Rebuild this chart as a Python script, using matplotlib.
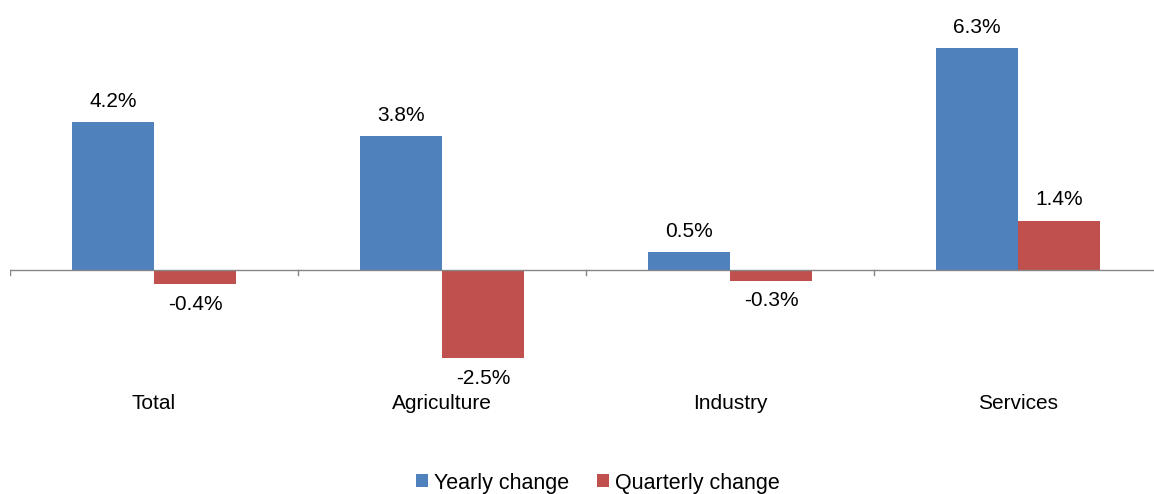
import numpy as np
import matplotlib
matplotlib.use("Agg")
import matplotlib.pyplot as plt

plt.rcParams["font.family"] = ["Liberation Sans", "DejaVu Sans"]

CATEGORIES = ["Total", "Agriculture", "Industry", "Services"]
YEARLY     = [4.2, 3.8, 0.5, 6.3]
QUARTERLY  = [-0.4, -2.5, -0.3, 1.4]
BLUE = "#4F81BD"
RED  = "#C0504D"
FS = 15

fig = plt.figure(figsize=(11.54, 4.94), dpi=100)
# zero line at y=270px, 35.2 px per unit
ax = fig.add_axes([10/1154, 1 - 380/494, 1152/1154, 370/494])
ax.set_ylim(-110/35.2, 260/35.2)
ax.set_xlim(0, 4)

x = np.arange(len(CATEGORIES)) + 0.5
w = 82/288
b1 = ax.bar(x - w/2, YEARLY, w, color=BLUE, label="Yearly change")
b2 = ax.bar(x + w/2, QUARTERLY, w, color=RED, label="Quarterly change")

for xi, v in zip(x - w/2, YEARLY):
    ax.text(xi, v + 0.32, f"{v:.1f}%", ha="center", va="bottom", fontsize=FS)
for xi, v in zip(x + w/2, QUARTERLY):
    if v >= 0:
        ax.text(xi, v + 0.32, f"{v:.1f}%", ha="center", va="bottom", fontsize=FS)
    else:
        ax.text(xi, v - 0.3, f"{v:.1f}%", ha="center", va="top", fontsize=FS)

ax.axhline(0, color="#868686", lw=1)
for t in range(5):
    ax.plot([t, t], [0, -0.15], color="#868686", lw=1)

for xi, c in zip(x, CATEGORIES):
    ax.text(xi, -133/35.2, c, ha="center", va="center", fontsize=FS,
            clip_on=False)

ax.set_xticks([])
ax.set_yticks([])
for s in ax.spines.values():
    s.set_visible(False)

fig.legend(handles=[b1, b2], loc="center", bbox_to_anchor=(598/1154, 1 - 483/494),
           ncol=2, frameon=False, fontsize=15.5, handlelength=0.55,
           handleheight=0.55, handletextpad=0.3, columnspacing=1.3)

fig.savefig("out.png", dpi=100)
